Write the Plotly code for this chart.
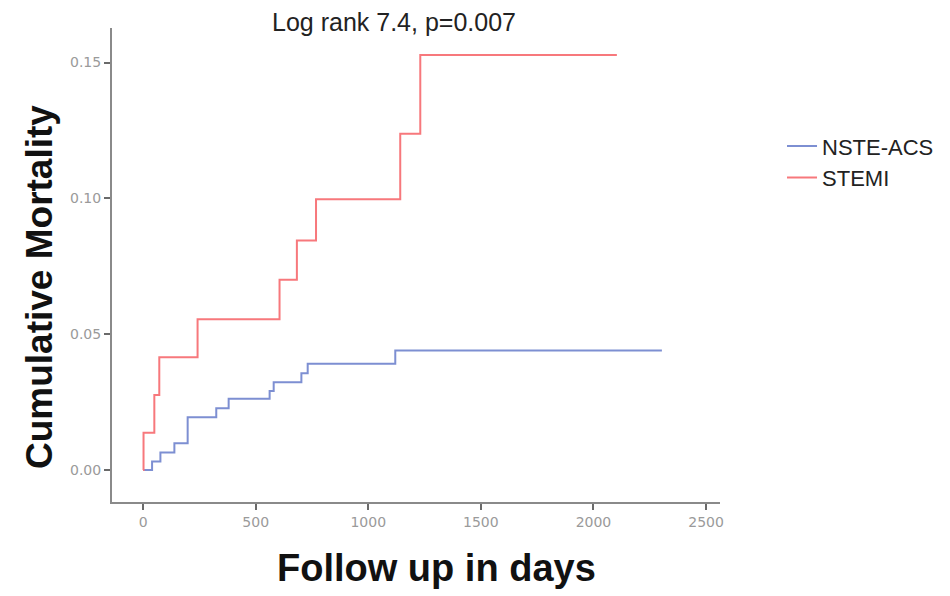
import plotly.graph_objects as go

# Follow-up (days) at which each step occurs, and cumulative mortality after the step
nste_days = [0, 40, 77, 139, 198, 325, 380, 562, 580, 703, 731, 1120, 2304]
nste_mort = [0.0, 0.0031, 0.0064, 0.0098, 0.0194, 0.0227, 0.0262, 0.0291, 0.0323, 0.0356, 0.0391, 0.0440, 0.0440]

stemi_days = [0, 2, 50, 72, 242, 606, 683, 768, 1142, 1231, 2104]
stemi_mort = [0.0, 0.0137, 0.0276, 0.0415, 0.0555, 0.0700, 0.0845, 0.0997, 0.1238, 0.1528, 0.1528]

x_ticks = [0, 500, 1000, 1500, 2000, 2500]
y_ticks = [0.00, 0.05, 0.10, 0.15]

title_text = "Log rank 7.4, p=0.007"
x_title = "Follow up in days"
y_title = "Cumulative Mortality"

fig = go.Figure()
fig.add_trace(go.Scatter(x=nste_days, y=nste_mort, mode="lines", name="NSTE-ACS",
                         line=dict(color="#7d8fd2", width=2, shape="hv")))
fig.add_trace(go.Scatter(x=stemi_days, y=stemi_mort, mode="lines", name="STEMI",
                         line=dict(color="#f7787c", width=2, shape="hv")))

axis_common = dict(showgrid=False, zeroline=False, showline=True, linecolor="#8a8a8a",
                   linewidth=2, ticks="outside", tickcolor="#6a6a6a", ticklen=6, tickwidth=2,
                   tickfont=dict(family="DejaVu Sans", size=14, color="#9a9a9a"))

fig.update_layout(
    width=950, height=596,
    margin=dict(l=112, r=230, t=28, b=94, autoexpand=False),
    paper_bgcolor="white", plot_bgcolor="white",
    xaxis=dict(range=[-138, 2562], tickvals=x_ticks, ticktext=[str(v) for v in x_ticks],
               **axis_common),
    yaxis=dict(range=[-0.0118, 0.1627], tickvals=y_ticks, ticktext=["%.2f" % v for v in y_ticks],
               **axis_common),
    legend=dict(x=1.102, y=0.795, xanchor="left", yanchor="top",
                font=dict(family="Liberation Sans", size=22, color="#222222"),
                bgcolor="rgba(0,0,0,0)", tracegroupgap=0),
    showlegend=True,
    annotations=[
        dict(text=title_text, xref="paper", yref="paper", x=0.4638, y=1.0127,
             xanchor="center", yanchor="middle", showarrow=False,
             font=dict(family="Liberation Sans", size=25, color="#222222")),
        dict(text="<b>" + x_title + "</b>", xref="paper", yref="paper", x=0.5345, y=-0.139,
             xanchor="center", yanchor="middle", showarrow=False,
             font=dict(family="Liberation Sans", size=38, color="#111111")),
        dict(text="<b>" + y_title + "</b>", xref="paper", yref="paper", x=-0.1184, y=0.4536,
             xanchor="center", yanchor="middle", showarrow=False, textangle=-90,
             font=dict(family="Liberation Sans", size=37, color="#111111")),
    ],
)

fig.write_html("out.html")
